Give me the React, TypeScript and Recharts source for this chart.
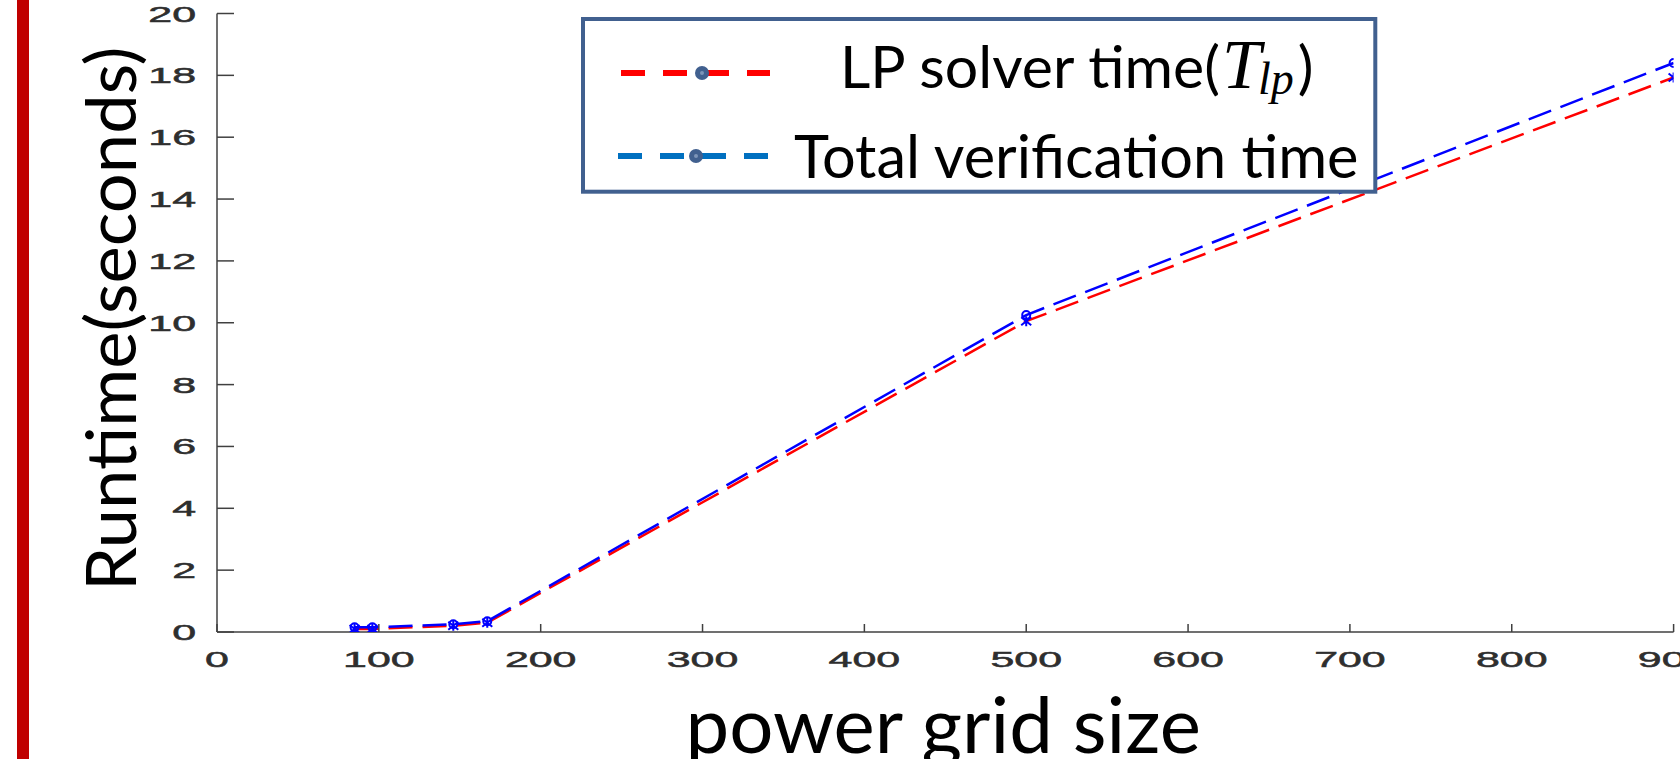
import React from "react";
import { LineChart, Line, XAxis, YAxis, Legend } from "recharts";

// power grid size vs runtime (seconds)
const gridSizes = [85, 96, 146, 167, 500, 900];
const lpSolverTime = [0.1, 0.1, 0.2, 0.3, 10.05, 17.93];
const totalVerificationTime = [0.15, 0.15, 0.25, 0.35, 10.25, 18.4];

const xTicks = [0, 100, 200, 300, 400, 500, 600, 700, 800, 900];
const yTicks = [0, 2, 4, 6, 8, 10, 12, 14, 16, 18, 20];

const seriesNames = ["LP solver time", "Total verification time"];

const data = gridSizes.map((size, i) => ({
    size,
    lp: lpSolverTime[i],
    total: totalVerificationTime[i],
}));

const AXIS = "#404040";
const TICK_TEXT = "#2e2e2e";
const TITLE_FONT = "Lato, 'Open Sans', sans-serif";
const TICK_FONT = "'Liberation Sans', Arial, sans-serif";
const MATH_FONT = "'Liberation Serif', 'DejaVu Serif', serif";
const LEGEND_BORDER = "#41608f";

function LeftTick({ x, y, payload }: any) {
    return (
        <g>
            <line x1={x} x2={x + 17} y1={y} y2={y} stroke={AXIS} strokeWidth={1.5} />
            <text
                transform={`translate(${x - 21},${y + 8}) scale(1.95,1)`}
                textAnchor="end"
                fontSize={22}
                fontFamily={TICK_FONT}
                fill={TICK_TEXT}
                stroke={TICK_TEXT}
                strokeWidth={0.5}
            >
                {payload.value}
            </text>
        </g>
    );
}

function BottomTick({ x, y, payload }: any) {
    return (
        <g>
            <line x1={x} x2={x} y1={y} y2={y - 8} stroke={AXIS} strokeWidth={1.5} />
            <text
                transform={`translate(${x},${y + 35}) scale(1.95,1)`}
                textAnchor="middle"
                fontSize={22}
                fontFamily={TICK_FONT}
                fill={TICK_TEXT}
                stroke={TICK_TEXT}
                strokeWidth={0.5}
            >
                {payload.value}
            </text>
        </g>
    );
}

function TopTick({ x, y }: any) {
    return <line x1={x} x2={x} y1={y} y2={y + 9} stroke={AXIS} strokeWidth={1.5} />;
}

function RightTick({ x, y }: any) {
    return <line x1={x} x2={x - 17} y1={y} y2={y} stroke={AXIS} strokeWidth={1.5} />;
}

const renderCross = (props: any) => {
    const { cx, cy, index } = props;
    return (
        <path
            key={`lp-${index}`}
            d={`M${cx - 5},${cy - 4}L${cx + 5},${cy + 4}M${cx - 5},${cy + 4}L${cx + 5},${cy - 4}M${cx},${cy - 5}L${cx},${cy + 5}`}
            stroke="#0000ff"
            strokeWidth={2}
            fill="none"
        />
    );
};

const renderCircle = (props: any) => {
    const { cx, cy, index } = props;
    return <circle key={`tot-${index}`} cx={cx} cy={cy} r={4} stroke="#0000ff" strokeWidth={2} fill="none" />;
};

const renderYTitle = (props: any) => {
    const vb = props.viewBox;
    const cx = vb.x + 136;
    const cy = vb.y + vb.height / 2 - 4;
    return (
        <text
            transform={`translate(${cx},${cy}) rotate(-90)`}
            textAnchor="middle"
            fontSize={70.5}
            fontFamily={TITLE_FONT}
            fill="#000"
        >
            Runtime(seconds)
        </text>
    );
};

const renderXTitle = (props: any) => {
    const vb = props.viewBox;
    return (
        <text
            x={vb.x + vb.width / 2 - 2}
            y={vb.y + 121}
            textAnchor="middle"
            fontSize={78}
            fontFamily={TITLE_FONT}
            fill="#000"
        >
            power grid size
        </text>
    );
};

function LegendBox() {
    return (
        <svg width={797} height={177} style={{ display: "block" }}>
            <rect x={2} y={2} width={792.3} height={172.7} fill="#fff" stroke={LEGEND_BORDER} strokeWidth={4} />
            <line x1={40} x2={189} y1={56} y2={56} stroke="#ff0000" strokeWidth={6} strokeDasharray="24 18" />
            <circle cx={121} cy={56} r={7} fill={LEGEND_BORDER} />
            <circle cx={121} cy={56} r={2} fill="#7d94b8" />
            <text x={259} y={71} fontSize={59} fontFamily={TITLE_FONT} fill="#000">
                {seriesNames[0]}(
                <tspan dx={2} fontFamily={MATH_FONT} fontStyle="italic" fontSize={70}>T</tspan>
                <tspan dx={-3} dy={6} fontFamily={MATH_FONT} fontStyle="italic" fontSize={46}>lp</tspan>
                <tspan dx={4} dy={-6}>)</tspan>
            </text>
            <line x1={37} x2={187} y1={139} y2={139} stroke="#0070c0" strokeWidth={6} strokeDasharray="24 18" />
            <circle cx={115} cy={139} r={7} fill={LEGEND_BORDER} />
            <circle cx={115} cy={139} r={2} fill="#7d94b8" />
            <text x={213} y={161} fontSize={59.5} fontFamily={TITLE_FONT} fill="#000">
                {seriesNames[1]}
            </text>
        </svg>
    );
}

export default function App() {
    return (
        <div
            style={{
                position: "absolute",
                left: 0,
                top: 0,
                width: 1680,
                height: 759,
                overflow: "hidden",
                background: "#fff",
            }}
        >
            <div style={{ position: "absolute", left: 17, top: 0, width: 12, height: 759, background: "#c00000" }} />
            <LineChart width={1680} height={759} data={data} margin={{ top: 13.5, right: 6.4, left: 0, bottom: 0 }}>
                <XAxis
                    dataKey="size"
                    type="number"
                    domain={[0, 900]}
                    ticks={xTicks}
                    interval={0}
                    allowDataOverflow
                    height={127}
                    tickSize={0}
                    tickMargin={0}
                    tickLine={false}
                    tick={<BottomTick />}
                    axisLine={{ stroke: AXIS, strokeWidth: 1.5 }}
                    label={renderXTitle}
                />
                <XAxis
                    xAxisId="top"
                    orientation="top"
                    dataKey="size"
                    type="number"
                    domain={[0, 900]}
                    ticks={xTicks}
                    interval={0}
                    allowDataOverflow
                    height={0}
                    tickSize={0}
                    tickMargin={0}
                    tickLine={false}
                    tick={<TopTick />}
                    axisLine={{ stroke: AXIS, strokeWidth: 1.5 }}
                />
                <YAxis
                    type="number"
                    domain={[0, 20]}
                    ticks={yTicks}
                    interval={0}
                    allowDataOverflow
                    width={217}
                    tickSize={0}
                    tickMargin={0}
                    tickLine={false}
                    tick={<LeftTick />}
                    axisLine={{ stroke: AXIS, strokeWidth: 1.5 }}
                    label={renderYTitle}
                />
                <YAxis
                    yAxisId="right"
                    orientation="right"
                    type="number"
                    domain={[0, 20]}
                    ticks={yTicks}
                    interval={0}
                    allowDataOverflow
                    width={0}
                    tickSize={0}
                    tickMargin={0}
                    tickLine={false}
                    tick={<RightTick />}
                    axisLine={{ stroke: AXIS, strokeWidth: 1.5 }}
                />
                <Legend
                    layout="vertical"
                    align="center"
                    verticalAlign="middle"
                    wrapperStyle={{ left: 581, top: 17, width: 797, height: 177 }}
                    content={<LegendBox />}
                />
                <Line
                    type="linear"
                    dataKey="lp"
                    name={seriesNames[0]}
                    stroke="#ff0000"
                    strokeWidth={2.5}
                    strokeDasharray="24 10"
                    dot={renderCross}
                    activeDot={false}
                    isAnimationActive={false}
                />
                <Line
                    type="linear"
                    dataKey="total"
                    name={seriesNames[1]}
                    stroke="#0000ff"
                    strokeWidth={2.5}
                    strokeDasharray="24 10"
                    dot={renderCircle}
                    activeDot={false}
                    isAnimationActive={false}
                />
            </LineChart>
        </div>
    );
}
